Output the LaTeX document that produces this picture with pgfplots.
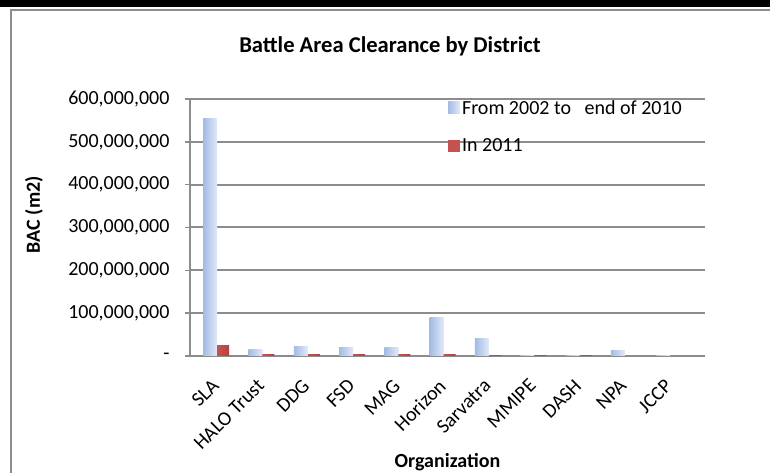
\documentclass[border=0pt]{standalone}
\usepackage{fontspec}
\setmainfont{Carlito}
\usepackage{pgfplots}
\usepackage{pgfplotstable}
\pgfplotsset{compat=1.18}

\definecolor{gridgray}{HTML}{8C8C8C}
\definecolor{barblueL}{HTML}{A2BBE5}
\definecolor{barblueR}{HTML}{E2EAF8}
\definecolor{barredL}{HTML}{C4534F}
\definecolor{barredR}{HTML}{B4423F}

\pgfplotsset{
  sqlegend/.style={legend image code/.code={\fill[##1, draw=none] (0pt,-6pt) rectangle (12pt,6pt);}},
  bluebar/.style={ybar, bar width=14pt, bar shift=-7pt, draw=none, left color=barblueL, right color=barblueR, forget plot},
  redbar/.style={ybar, bar width=12pt, bar shift=6pt, draw=none, left color=barredL, right color=barredR, forget plot},
}

% idx  from 2002 to end of 2010   in 2011
\pgfplotstableread{
idx blue      red
0   555000000 25000000
1   16000000  3000000
2   22000000  2500000
3   19000000  4000000
4   20000000  2500000
5   90000000  3500000
6   42000000  1500000
7   1500000   2000000
8   1000000   2000000
9   12000000  0
10  1000000   0
}\bacdata

\begin{document}
\begin{tikzpicture}
  % page frame as in the screenshot
  \path[use as bounding box] (0pt,0pt) rectangle (770pt,473pt);
  \fill[black] (0pt,466pt) rectangle (770pt,473pt);
  \draw[gridgray, line width=1.5pt] (11pt,0pt) -- (11pt,463pt) -- (770pt,463pt);

  \begin{axis}[
      at={(190pt,117pt)}, anchor=south west,
      scale only axis,
      width=515pt, height=257pt,
      xmin=-0.6, xmax=10.77,
      ymin=0, ymax=600000000,
      scaled y ticks=false,
      xtick={0,...,10},
      xticklabels={SLA, HALO Trust, DDG, FSD, MAG, Horizon, Sarvatra, MMIPE, DASH, NPA, JCCP},
      x tick label style={rotate=45, anchor=north east, yshift=-4pt, xshift=-13pt},
      ytick={0,100000000,200000000,300000000,400000000,500000000,600000000},
      yticklabels={{-},{100,000,000},{200,000,000},{300,000,000},{400,000,000},{500,000,000},{600,000,000}},
      y tick label style={xshift=-12pt},
      tick label style={font=\fontsize{20pt}{24pt}\selectfont},
      major x tick style={draw=none},
      tick align=outside,
      major tick length=5pt,
      ytick style={gridgray, line width=1.5pt},
      axis x line*=bottom, axis y line*=left,
      axis line style={gridgray, line width=1.5pt},
      ymajorgrids,
      major grid style={gridgray, line width=2pt},
      xlabel={Organization},
      ylabel={BAC (m2)},
      label style={font=\bfseries\fontsize{20pt}{24pt}\selectfont},
      xlabel style={at={(rel axis cs:0.5,0)}, anchor=center, yshift=-106pt},
      ylabel style={at={(rel axis cs:0,0.55)}, anchor=center, yshift=156pt},
      legend style={at={(0.495,1.012)}, anchor=north west, draw=none, fill=none,
        font=\fontsize{20pt}{24pt}\selectfont, row sep=19pt, cells={anchor=west}},
    ]
    \pgfplotsinvokeforeach{0,...,10}{
      \addplot[bluebar] table[x=idx, y=blue, restrict x to domain=#1:#1] {\bacdata};
      \addplot[redbar] table[x=idx, y=red, restrict x to domain=#1:#1] {\bacdata};
    }
    \addlegendimage{sqlegend, left color=barblueL, right color=barblueR}
    \addlegendentry{From 2002 to\ \ \ end of 2010}
    \addlegendimage{sqlegend, fill=barredL}
    \addlegendentry{In 2011}
  \end{axis}

  \node[font=\bfseries\fontsize{22.6pt}{27pt}\selectfont] at (390pt,427pt) {Battle Area Clearance by District};
\end{tikzpicture}
\end{document}
